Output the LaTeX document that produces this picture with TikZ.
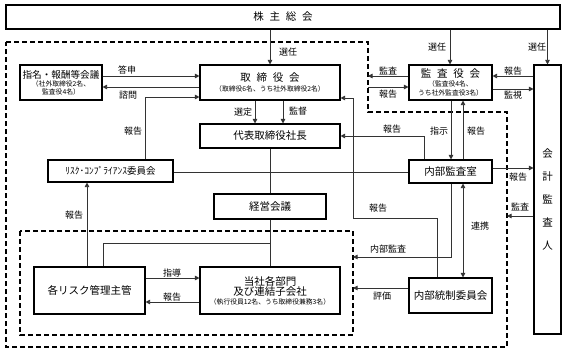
\documentclass[tikz,border=0pt]{standalone}
\usepackage{fontspec}
\setmainfont{Noto Sans CJK JP}
\usetikzlibrary{arrows.meta}
\tikzset{
  box/.style={draw=black, line width=1.1pt, fill=white, inner sep=0pt, align=center, font=\fontsize{10.5}{12}\selectfont},
  conn/.style={draw=black!80, line width=0.8pt},
  arr/.style={conn, -{Triangle[length=4.5pt,width=4.5pt]}},
  darr/.style={conn, {Triangle[length=4.5pt,width=4.5pt]}-{Triangle[length=4.5pt,width=4.5pt]}},
  lbl/.style={font=\fontsize{9}{10}\selectfont, inner sep=0pt},
  dash box/.style={draw=black, line width=1.6pt, dash pattern=on 5pt off 3pt},
}
\newcommand{\jsm}[1]{{\fontsize{6.8}{8}\selectfont #1}}
\newcommand{\jsp}{\hspace{0.55em}}
\begin{document}
\begin{tikzpicture}[x=1pt,y=-1pt]
\useasboundingbox (0,0) rectangle (567,353);
\fill[white] (0,0) rectangle (567,353);
% dashed regions
\draw[dash box] (6,42) -- (368,42) -- (368,112) -- (507,112) -- (507,347) -- (6,347) -- cycle;
\draw[dash box] (20,231) rectangle (353,335);
% nodes
\node[box, minimum width=554, minimum height=24] (kabu) at (283,17) {株\jsp 主\jsp 総\jsp 会};
\node[box, minimum width=82, minimum height=35, font=\fontsize{9.6}{11}\selectfont] (shimei) at (61,82.5) {指名・報酬等会議\\[-3pt]\jsm{（社外取締役2名、}\\[-3pt]\jsm{監査役4名）}};
\node[box, minimum width=140, minimum height=35] (tori) at (270,82.5) {取\jsp 締\jsp 役\jsp 会\\[-2pt]\jsm{（取締役6名、うち社外取締役2名）}};
\node[box, minimum width=83, minimum height=35] (kansa) at (450.5,82.5) {監\jsp 査\jsp 役\jsp 会\\[-3pt]\jsm{（監査役4名、}\\[-3pt]\jsm{うち社外監査役3名）}};
\node[box, minimum width=27, minimum height=269] (kaikei) at (547.5,199.5) {会\\[11pt]計\\[11pt]監\\[11pt]査\\[11pt]人};
\node[box, minimum width=140, minimum height=24] (daihyo) at (270,136) {代表取締役社長};
\node[box, minimum width=125, minimum height=22, font=\fontsize{9.5}{11}\selectfont] (risk) at (110.5,171) {ﾘｽｸ･ｺﾝﾌﾟﾗｲｱﾝｽ委員会};
\node[box, minimum width=83, minimum height=23] (naibu) at (450.5,171.5) {内部監査室};
\node[box, minimum width=112, minimum height=25] (keiei) at (270,206.5) {経営会議};
\node[box, minimum width=111, minimum height=47] (kaku) at (89.5,290.5) {各リスク管理主管};
\node[box, minimum width=140, minimum height=47] (tosha) at (270,290.5) {当社各部門\\[-2pt]及び連結子会社\\[-3pt]\jsm{（執行役員12名、うち取締役兼務3名）}};
\node[box, minimum width=83, minimum height=35] (tosei) at (450.5,295.5) {内部統制委員会};
% coordinates
\coordinate (c353a) at (353,98);
\coordinate (c353b) at (353,218);
\coordinate (c437) at (437,218);
\coordinate (rk) at (145,97);
\coordinate (nb) at (424,136);
\coordinate (ia) at (451,257);
\coordinate (ib) at (353,257);
\coordinate (br1) at (270,243);
\coordinate (br2) at (103,243);
\coordinate (dsA) at (368,76);
\coordinate (dsB) at (368,87);
\coordinate (dsC) at (507,216);
\coordinate (evl) at (353,288);
% connectors
\draw[arr] (kabu.south -| tori) -- (tori.north);
\draw[arr] (kabu.south -| 450,0) -- (kansa.north -| 450,0);
\draw[arr] (kabu.south -| kaikei) -- (kaikei.north);
\draw[arr] (shimei.east |- 0,76) -- (tori.west |- 0,76);
\draw[arr] (tori.west |- 0,87) -- (shimei.east |- 0,87);
\draw[arr] (risk.north -| rk) -- (rk) -- (tori.west |- rk);
\draw[arr] (tori.south -| 255,0) -- (daihyo.north -| 255,0);
\draw[arr] (tori.south -| 283,0) -- (daihyo.north -| 283,0);
\draw[arr] (kansa.west |- dsA) -- (dsA);
\draw[arr] (dsB) -- (kansa.west |- dsB);
\draw[arr] (kaikei.west |- dsA) -- (kansa.east |- dsA);
\draw[arr] (kansa.east |- 0,89) -- (kaikei.west |- 0,89);
\draw[arr] (kansa.south -| 451,0) -- (naibu.north -| 451,0);
\draw[arr] (naibu.north -| 463,0) -- (kansa.south -| 463,0);
\draw[arr] (naibu.north -| nb) -- (nb) -- (daihyo.east |- nb);
\draw[conn] (daihyo.south) -- (keiei.north);
\draw[conn] (risk.east |- 0,172) -- (naibu.west |- 0,172);
\draw[conn] (keiei.south) -- (tosha.north);
\draw[conn] (br1) -- (br2) -- (kaku.north -| br2);
\draw[arr] (tosei.north -| c437) -- (c437) -- (c353b) -- (c353a) -- (tori.east |- c353a);
\draw[arr] (naibu.south -| ia) -- (ia) -- (ib);
\draw[darr] (naibu.south -| 463,0) -- (tosei.north -| 463,0);
\draw[arr] (naibu.east |- 0,168) -- (kaikei.west |- 0,168);
\draw[arr] (kaikei.west |- dsC) -- (dsC);
\draw[arr] (tosei.west |- evl) -- (evl);
\draw[arr] (kaku.north -| 87,0) -- (risk.south -| 87,0);
\draw[arr] (kaku.east |- 0,278) -- (tosha.west |- 0,278);
\draw[arr] (tosha.west |- 0,302) -- (kaku.east |- 0,302);
% labels
\node[lbl] (l1) at (288,52) {選任};
\node[lbl] (l2) at (437,47) {選任};
\node[lbl] (l3) at (537,47) {選任};
\node[lbl] (l4) at (127,70) {答申};
\node[lbl] (l5) at (128,95) {諮問};
\node[lbl] (l6) at (133,131) {報告};
\node[lbl] (l7) at (243,112) {選定};
\node[lbl] (l8) at (298,111) {監督};
\node[lbl] (l9) at (388,71) {監査};
\node[lbl] (l10) at (388,94) {報告};
\node[lbl] (l11) at (513,71) {報告};
\node[lbl] (l12) at (513,95) {監視};
\node[lbl] (l13) at (439,131) {指示};
\node[lbl] (l14) at (476,131) {報告};
\node[lbl] (l15) at (392,129) {報告};
\node[lbl] (l16) at (518,177) {報告};
\node[lbl] (l17) at (520,207) {監査};
\node[lbl] (l18) at (378,208) {報告};
\node[lbl] (l19) at (388,249) {内部監査};
\node[lbl] (l20) at (382,296) {評価};
\node[lbl] (l21) at (480,226) {連携};
\node[lbl] (l22) at (74,215) {報告};
\node[lbl] (l23) at (172,273) {指導};
\node[lbl] (l24) at (172,297) {報告};
\end{tikzpicture}
\end{document}
